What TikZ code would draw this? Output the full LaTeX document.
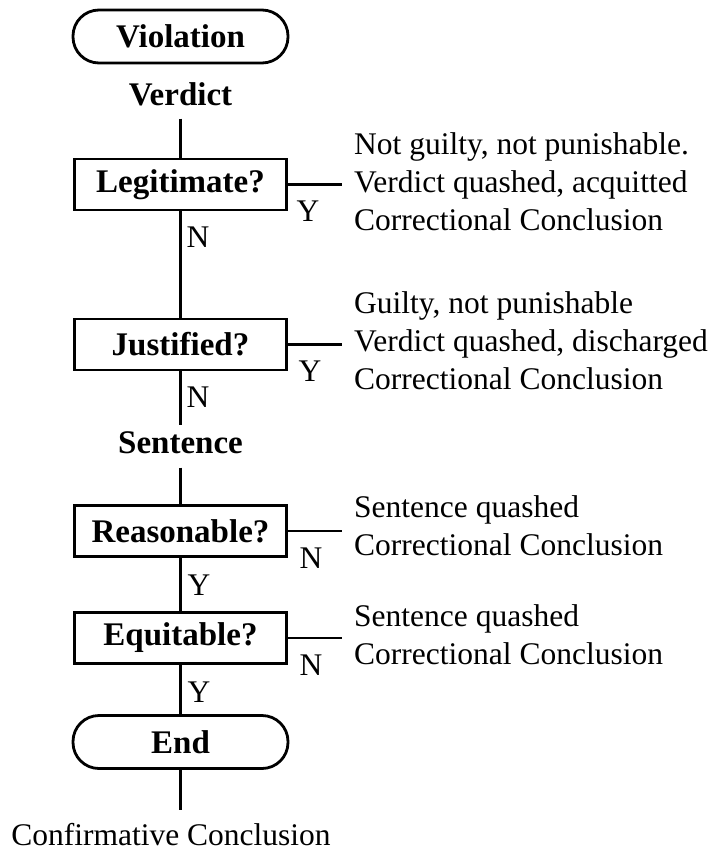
\documentclass[tikz,border=0pt]{standalone}
\usepackage{fontspec}
\setmainfont{Liberation Serif}
\begin{document}
\begin{tikzpicture}[x=1pt, y=-1pt,
  txt/.style={font=\fontsize{31.5}{38}\selectfont},
  conn/.style={line width=2.8pt},
  box/.style={draw, line width=2.8pt, minimum width=212pt, minimum height=51pt,
              inner sep=0pt, font=\fontsize{33}{38}\selectfont\bfseries},
  term/.style={box, rounded corners=26pt, minimum width=215pt, minimum height=53pt},
  head/.style={font=\fontsize{33}{38}\selectfont\bfseries, anchor=base, inner xsep=0pt},
  outcome/.style={txt, align=left, anchor=west, inner xsep=0pt, inner ysep=0pt},
  yn/.style={txt, anchor=base, inner sep=0pt}
]
\useasboundingbox (0,0) rectangle (712,852);

% main column
\node[term] (viol) at (180.5,36.5) {Violation};
\node[head, inner ysep=13pt] (verd) at (180.5,105) {Verdict};
\node[box] (legit) at (180.5,184.5) {Legitimate?};
\node[box] (just) at (180.5,344.5) {Justified?};
\node[head, inner ysep=6pt] (sent) at (180.5,453) {Sentence};
\node[box] (reas) at (180.5,531) {Reasonable?};
\node[box] (equi) at (180.5,638) {Equitable?};
\node[term] (endn) at (180.5,742) {End};
\node[txt, anchor=base, inner xsep=0pt, inner ysep=12.5pt] (conf) at (171,845) {Confirmative Conclusion};

% outcomes on the right
\node[outcome] (o1) at (354,182) {Not guilty, not punishable.\\Verdict quashed, acquitted\\Correctional Conclusion};
\node[outcome] (o2) at (354,341) {Guilty, not punishable\\Verdict quashed, discharged\\Correctional Conclusion};
\node[outcome] (o3) at (354,526) {Sentence quashed\\Correctional Conclusion};
\node[outcome] (o4) at (354,635) {Sentence quashed\\Correctional Conclusion};

% vertical flow
\draw[conn] (verd) -- (legit);
\draw[conn] (legit) -- (just);
\draw[conn] (just) -- (sent);
\draw[conn, shorten <=8pt] (sent) -- (reas);
\draw[conn] (reas) -- (equi);
\draw[conn] (equi) -- (endn);
\draw[conn] (endn) -- (endn |- conf.north);

% side branches
\draw[conn] (legit.east) -- ++(54,0);
\draw[conn] (just.east) -- ++(54,0);
\draw[conn] (reas.east) -- ++(54,0);
\draw[conn] (equi.east) -- ++(54,0);

% branch labels
\node[yn] (y1) at (308,221) {Y};
\node[yn] (n1) at (198,247) {N};
\node[yn] (y2) at (310,381) {Y};
\node[yn] (n2) at (198,407) {N};
\node[yn] (n3) at (311,568) {N};
\node[yn] (y3) at (199,595) {Y};
\node[yn] (n4) at (311,675) {N};
\node[yn] (y4) at (199,702) {Y};
\end{tikzpicture}
\end{document}
